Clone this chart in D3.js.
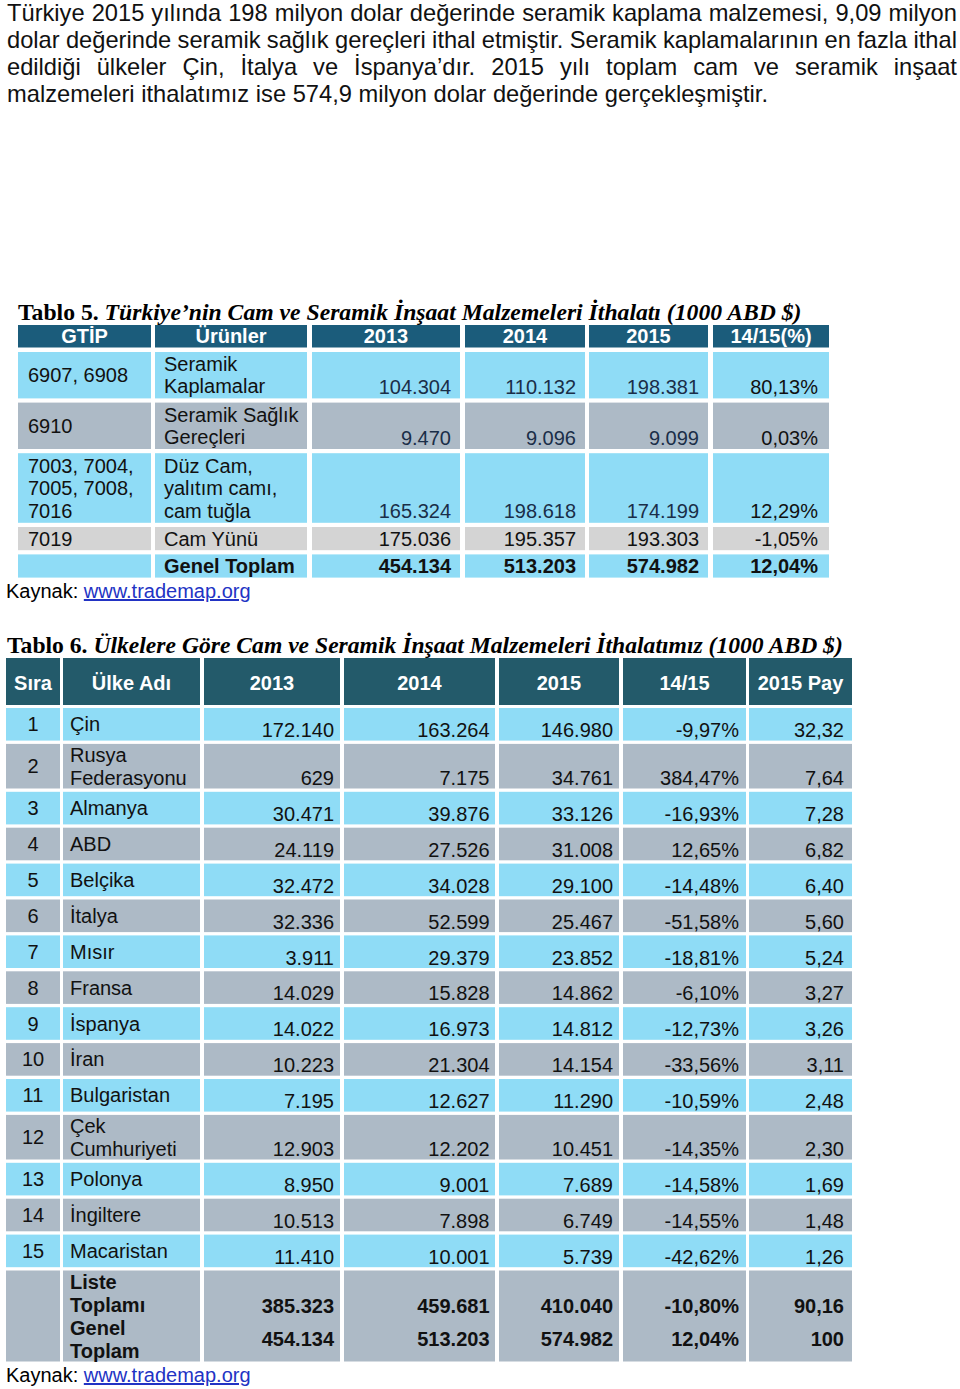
<!DOCTYPE html>
<html>
<head>
<meta charset="utf-8">
<script src="https://cdn.jsdelivr.net/npm/d3@7"></script>
<style>
  body { margin: 0; background: #fff; }
</style>
</head>
<body>
<div id="vis"></div>
<script>
// intro paragraph lines
var paragraph = [
  "Türkiye 2015 yılında 198 milyon dolar değerinde seramik kaplama malzemesi, 9,09 milyon",
  "dolar değerinde seramik sağlık gereçleri ithal etmiştir. Seramik kaplamalarının en fazla ithal",
  "edildiği ülkeler Çin, İtalya ve İspanya’dır. 2015 yılı toplam cam ve seramik inşaat",
  "malzemeleri ithalatımız ise 574,9 milyon dolar değerinde gerçekleşmiştir."
];

// table 5 data (1000 USD)
var t5Title = ["Tablo 5.", " Türkiye’nin Cam ve Seramik İnşaat Malzemeleri İthalatı (1000 ABD $)"];
var t5Headers = ["GTİP", "Ürünler", "2013", "2014", "2015", "14/15(%)"];
var t5Gtip = ["6907, 6908", "6910", "7003, 7004, 7005, 7008, 7016", "7019", ""];
var t5Products = ["Seramik Kaplamalar", "Seramik Sağlık Gereçleri", "Düz Cam, yalıtım camı, cam tuğla", "Cam Yünü", "Genel Toplam"];
var t5V2013 = [104304, 9470, 165324, 175036, 454134];
var t5V2014 = [110132, 9096, 198618, 195357, 513203];
var t5V2015 = [198381, 9099, 174199, 193303, 574982];
var t5Change = [80.13, 0.03, 12.29, -1.05, 12.04];

// table 6 data (1000 USD)
var t6Title = ["Tablo 6.", " Ülkelere Göre Cam ve Seramik İnşaat Malzemeleri İthalatımız (1000 ABD $)"];
var t6Headers = ["Sıra", "Ülke Adı", "2013", "2014", "2015", "14/15", "2015 Pay"];
var countries = ["Çin", "Rusya Federasyonu", "Almanya", "ABD", "Belçika", "İtalya", "Mısır", "Fransa",
                 "İspanya", "İran", "Bulgaristan", "Çek Cumhuriyeti", "Polonya", "İngiltere", "Macaristan"];
var c2013 = [172140, 629, 30471, 24119, 32472, 32336, 3911, 14029, 14022, 10223, 7195, 12903, 8950, 10513, 11410];
var c2014 = [163264, 7175, 39876, 27526, 34028, 52599, 29379, 15828, 16973, 21304, 12627, 12202, 9001, 7898, 10001];
var c2015 = [146980, 34761, 33126, 31008, 29100, 25467, 23852, 14862, 14812, 14154, 11290, 10451, 7689, 6749, 5739];
var c1415 = [-9.97, 384.47, -16.93, 12.65, -14.48, -51.58, -18.81, -6.10, -12.73, -33.56, -10.59, -14.35, -14.58, -14.55, -42.62];
var cShare = [32.32, 7.64, 7.28, 6.82, 6.40, 5.60, 5.24, 3.27, 3.26, 3.11, 2.48, 2.30, 1.69, 1.48, 1.26];
var totalLabels = ["Liste Toplamı", "Genel Toplam"];
var total2013 = [385323, 454134];
var total2014 = [459681, 513203];
var total2015 = [410040, 574982];
var total1415 = [-10.80, 12.04];
var totalShare = [90.16, 100];

var sourceLabel = "Kaynak: ";
var sourceLink = "www.trademap.org";

// fonts and colours
var sans = '"Liberation Sans", Arial, Helvetica, sans-serif';
var serif = '"Liberation Serif", "Times New Roman", serif';
var lightBlue = '#8fdcf6';
var greyBlue = '#adbac6';
var lightGrey = '#d4d4d4';
var head5 = '#1b5c7b';
var head6 = '#235a6a';
var linkColor = '#2233c4';

// turkish number formats
var tr = d3.formatLocale({decimal: ",", thousands: ".", grouping: [3], currency: ["", ""], minus: "-"});
var fmtInt = tr.format(",d");
var fmtDec = tr.format(",.2f");
var fmtPct = function (v) { return fmtDec(v) + "%"; };
var fmtShare = function (v) { return v === 100 ? "100" : fmtDec(v); };

var svg = d3.select('#vis').append('svg')
  .attr('width', 960)
  .attr('height', 1389);

// measure a string
var textWidth = function (str, size, weight, family) {
  var t = svg.append('text')
    .attr('font-size', size)
    .attr('font-weight', weight || 'normal')
    .style('font-family', family || sans)
    .style('white-space', 'pre')
    .text(str);
  var w = t.node().getComputedTextLength();
  t.remove();
  return w;
};

// greedy word wrap
var wrap = function (str, maxW, size, weight) {
  var words = str.split(' '), lines = [], cur = '';
  words.forEach(function (w) {
    var test = cur ? cur + ' ' + w : w;
    if (cur && textWidth(test, size, weight) > maxW) { lines.push(cur); cur = w; }
    else cur = test;
  });
  lines.push(cur);
  return lines;
};

/* paragraph: condensed, justified */
var paraSize = 24;
var spaceW = textWidth('a a', paraSize) - textWidth('aa', paraSize);
var sx = (768 - 7) / textWidth(paragraph[3], paraSize);
var para = svg.append('g')
  .attr('transform', 'translate(7,0) scale(' + sx + ',1)');

paragraph.forEach(function (line, i) {
  var words = line.split(' ');
  var widths = words.map(function (w) { return textWidth(w, paraSize); });
  var last = i === paragraph.length - 1;
  var gap = last ? spaceW : ((957 - 7) / sx - d3.sum(widths)) / (words.length - 1);
  var x = 0;
  var t = para.append('text')
    .attr('y', 21 + i * 27)
    .attr('font-size', paraSize)
    .style('font-family', sans)
    .attr('fill', '#111');
  words.forEach(function (w, j) {
    t.append('tspan').attr('x', x).text(w);
    x += widths[j] + gap;
  });
});

// title with bold lead and bold italic rest, fitted to a width
var drawTitle = function (parts, x, y, width) {
  var t = svg.append('text')
    .attr('x', x)
    .attr('y', y)
    .attr('font-size', 23)
    .attr('font-weight', 'bold')
    .style('font-family', serif)
    .style('white-space', 'pre')
    .attr('fill', '#000');
  t.append('tspan').text(parts[0]);
  t.append('tspan').attr('font-style', 'italic').text(parts[1]);
  var w = t.node().getComputedTextLength();
  t.attr('font-size', 23 * width / w);
};

var drawSource = function (x, y) {
  var t = svg.append('text')
    .attr('x', x)
    .attr('y', y)
    .attr('font-size', 20)
    .style('font-family', sans)
    .style('white-space', 'pre')
    .attr('fill', '#000');
  t.append('tspan').text(sourceLabel);
  t.append('tspan').attr('fill', linkColor).attr('text-decoration', 'underline').text(sourceLink);
};

/* Tablo 5 */
drawTitle(t5Title, 18, 320, 784);

var t5Left = d3.scaleOrdinal().domain(t5Headers).range([18, 155, 312, 465, 589, 713]);
var t5Right = d3.scaleOrdinal().domain(t5Headers).range([151, 307, 460, 585, 708, 829]);
var t5Fill = [lightBlue, greyBlue, lightBlue, lightGrey, lightBlue];
var t5Top = 352, t5Gap = 4.2, t5LineH = 23.2, t5Lead = 22.5;

var t5Rows = [];
var yy = t5Top;
t5Gtip.forEach(function (g, i) {
  var bold = i === t5Gtip.length - 1;
  var gl = wrap(g, 123, 20);
  var pl = wrap(t5Products[i], 141, 20, bold ? 'bold' : 'normal');
  var n = Math.max(gl.length, pl.length);
  t5Rows.push({
    y: yy, h: n * t5LineH, gtip: gl, prod: pl, bold: bold, fill: t5Fill[i],
    vals: [fmtInt(t5V2013[i]), fmtInt(t5V2014[i]), fmtInt(t5V2015[i]), fmtPct(t5Change[i])]
  });
  yy += n * t5LineH + t5Gap;
});

var t5 = svg.append('g');

// header
t5.selectAll('.h5')
  .data(t5Headers)
  .enter().append('rect')
  .attr('x', function (d) { return t5Left(d); })
  .attr('y', 325)
  .attr('width', function (d) { return t5Right(d) - t5Left(d); })
  .attr('height', 22.5)
  .attr('fill', head5);

t5.selectAll('.ht5')
  .data(t5Headers)
  .enter().append('text')
  .attr('x', function (d) { return (t5Left(d) + t5Right(d)) / 2; })
  .attr('y', 343)
  .attr('text-anchor', 'middle')
  .attr('font-size', 20)
  .attr('font-weight', 'bold')
  .style('font-family', sans)
  .attr('fill', '#fff')
  .text(function (d) { return d; });

// body rows
t5Rows.forEach(function (r, i) {
  var g = t5.append('g');
  g.selectAll('rect')
    .data(t5Headers)
    .enter().append('rect')
    .attr('x', function (d) { return t5Left(d); })
    .attr('y', r.y)
    .attr('width', function (d) { return t5Right(d) - t5Left(d); })
    .attr('height', r.h)
    .attr('fill', r.fill);

  var mid = r.y + r.h / 2 + 7;
  var block = function (lines, x, weight) {
    g.append('g').selectAll('text')
      .data(lines)
      .enter().append('text')
      .attr('x', x)
      .attr('y', function (d, k) { return mid - (lines.length - 1) * t5Lead / 2 + k * t5Lead; })
      .attr('font-size', 20)
      .attr('font-weight', weight)
      .style('font-family', sans)
      .attr('fill', '#111')
      .text(function (d) { return d; });
  };
  block(r.gtip, t5Left('GTİP') + 10, 'normal');
  block(r.prod, t5Left('Ürünler') + 9, r.bold ? 'bold' : 'normal');

  g.selectAll('.v')
    .data(r.vals)
    .enter().append('text')
    .attr('x', function (d, k) { return t5Right(t5Headers[k + 2]) - (k === 3 ? 11 : 9); })
    .attr('y', r.y + r.h - 4.5)
    .attr('text-anchor', 'end')
    .attr('font-size', 20)
    .attr('font-weight', r.bold ? 'bold' : 'normal')
    .style('font-family', sans)
    .attr('fill', function (d, k) { return (k < 3 && i < 3) ? '#1a2e48' : '#111'; })
    .text(function (d) { return d; });
});

drawSource(6, 598);

/* Tablo 6 */
drawTitle(t6Title, 7, 653, 836);

var t6Left = d3.scaleOrdinal().domain(t6Headers).range([6, 63, 204, 344, 499, 623, 749]);
var t6Right = d3.scaleOrdinal().domain(t6Headers).range([60, 200, 340, 495, 619, 746, 852]);
var t6Pad = [6, 5.5, 6, 7, 8];
var t6Top = 708, t6Gap = 3.3, t6Lead = 23;

var t6 = svg.append('g');

t6.selectAll('.h6')
  .data(t6Headers)
  .enter().append('rect')
  .attr('x', function (d) { return t6Left(d); })
  .attr('y', 658)
  .attr('width', function (d) { return t6Right(d) - t6Left(d); })
  .attr('height', 47)
  .attr('fill', head6);

t6.selectAll('.ht6')
  .data(t6Headers)
  .enter().append('text')
  .attr('x', function (d) { return (t6Left(d) + t6Right(d)) / 2; })
  .attr('y', 690)
  .attr('text-anchor', 'middle')
  .attr('font-size', 20)
  .attr('font-weight', 'bold')
  .style('font-family', sans)
  .attr('fill', '#fff')
  .text(function (d) { return d; });

var valueCells = function (g, vals, y, weight) {
  g.append('g').selectAll('text')
    .data(vals)
    .enter().append('text')
    .attr('x', function (d, k) { return t6Right(t6Headers[k + 2]) - t6Pad[k]; })
    .attr('y', y)
    .attr('text-anchor', 'end')
    .attr('font-size', 20)
    .attr('font-weight', weight)
    .style('font-family', sans)
    .attr('fill', '#111')
    .text(function (d) { return d; });
};

var rowRects = function (g, y, h, fill) {
  g.selectAll('rect')
    .data(t6Headers)
    .enter().append('rect')
    .attr('x', function (d) { return t6Left(d); })
    .attr('y', y)
    .attr('width', function (d) { return t6Right(d) - t6Left(d); })
    .attr('height', h)
    .attr('fill', fill);
};

yy = t6Top;
countries.forEach(function (c, i) {
  var lines = wrap(c, 126, 20);
  var h = 32.6 + (lines.length - 1) * 12;
  var g = t6.append('g');
  rowRects(g, yy, h, i % 2 === 0 ? lightBlue : greyBlue);

  var mid = yy + h / 2 + 7;
  g.append('text')
    .attr('x', (t6Left('Sıra') + t6Right('Sıra')) / 2)
    .attr('y', mid)
    .attr('text-anchor', 'middle')
    .attr('font-size', 20)
    .style('font-family', sans)
    .attr('fill', '#111')
    .text(i + 1);

  g.append('g').selectAll('text')
    .data(lines)
    .enter().append('text')
    .attr('x', t6Left('Ülke Adı') + 7)
    .attr('y', function (d, k) { return mid - (lines.length - 1) * t6Lead / 2 + k * t6Lead; })
    .attr('font-size', 20)
    .style('font-family', sans)
    .attr('fill', '#111')
    .text(function (d) { return d; });

  valueCells(g, [fmtInt(c2013[i]), fmtInt(c2014[i]), fmtInt(c2015[i]), fmtPct(c1415[i]), fmtShare(cShare[i])],
    yy + h - 3.5, 'normal');
  yy += h + t6Gap;
});

// totals row: list total and grand total in one grey row
var tg = t6.append('g');
var totH = 91;
rowRects(tg, yy, totH, greyBlue);
var labelLines = [];
totalLabels.forEach(function (l) { labelLines = labelLines.concat(wrap(l, 126, 20, 'bold')); });
tg.append('g').selectAll('text')
  .data(labelLines)
  .enter().append('text')
  .attr('x', t6Left('Ülke Adı') + 7)
  .attr('y', function (d, k) { return yy + 18 + k * t6Lead; })
  .attr('font-size', 20)
  .attr('font-weight', 'bold')
  .style('font-family', sans)
  .attr('fill', '#111')
  .text(function (d) { return d; });
totalLabels.forEach(function (l, k) {
  valueCells(tg, [fmtInt(total2013[k]), fmtInt(total2014[k]), fmtInt(total2015[k]), fmtPct(total1415[k]), fmtShare(totalShare[k])],
    yy + 42 + k * 33, 'bold');
});

drawSource(6, 1382);
</script>
</body>
</html>
